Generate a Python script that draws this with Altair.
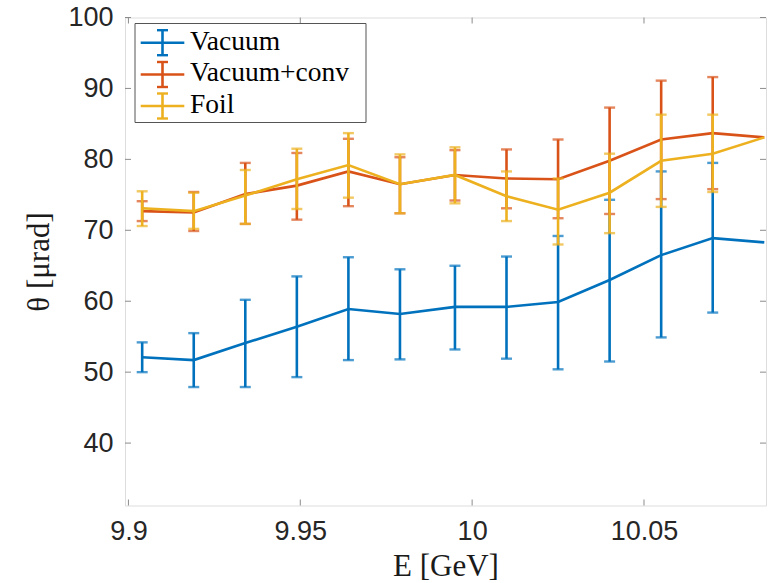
import altair as alt
import pandas as pd

# ---- data ----
energy = [9.904, 9.919, 9.934, 9.949, 9.964, 9.979, 9.995, 10.010, 10.025, 10.040, 10.055, 10.070, 10.085]

vac = [52.1, 51.7, 54.1, 56.4, 58.9, 58.2, 59.2, 59.2, 59.9, 63.0, 66.5, 68.9, 68.3]
vac_hi = [54.2, 55.5, 60.2, 63.5, 66.2, 64.5, 65.0, 66.3, 69.2, 74.3, 78.3, 79.5, None]
vac_lo = [50.0, 47.9, 47.9, 49.3, 51.7, 51.8, 53.2, 51.9, 50.4, 51.5, 54.9, 58.4, None]

conv = [72.7, 72.5, 75.1, 76.3, 78.3, 76.5, 77.8, 77.3, 77.2, 79.8, 82.8, 83.7, 83.1]
conv_hi = [74.1, 75.4, 79.5, 80.9, 82.9, 80.3, 81.3, 81.4, 82.8, 87.3, 91.1, 91.6, None]
conv_lo = [71.3, 69.9, 70.9, 71.5, 73.4, 72.4, 74.2, 73.1, 71.7, 72.3, 74.4, 75.8, None]

foil = [73.1, 72.7, 74.9, 77.2, 79.2, 76.5, 77.8, 74.8, 72.9, 75.3, 79.8, 80.8, 83.1]
foil_hi = [75.5, 75.3, 78.5, 81.5, 83.7, 80.7, 81.7, 78.3, 77.3, 80.8, 86.3, 86.3, None]
foil_lo = [70.6, 70.2, 70.9, 73.0, 74.6, 72.4, 73.8, 71.3, 68.0, 69.6, 73.3, 75.4, None]

names = ["Vacuum", "Vacuum+conv", "Foil"]
colors = ["#0072BD", "#D95319", "#EDB120"]

x_ticks = [9.9, 9.95, 10.0, 10.05]
y_ticks = [40, 50, 60, 70, 80, 90, 100]
x_domain = [9.899, 10.0855]
y_domain = [31.2, 100]

# ---- layout ----
W, H = 641, 488
TICK = 6
FRAME = "#8c8c8c"
SANS = "Liberation Sans"
SERIF = "Liberation Serif"
LW = 2.6

xs = alt.Scale(domain=x_domain, nice=False, zero=False)
ys = alt.Scale(domain=y_domain, nice=False, zero=False)

x_axis = alt.Axis(values=x_ticks, format="~g", title="E [GeV]", grid=False, domain=False,
                  ticks=False, labelFont=SANS, labelFontSize=27, labelColor="#262626",
                  labelPadding=13, titleFont=SERIF, titleFontSize=31, titleFontWeight="normal",
                  titleColor="#1a1a1a", titlePadding=7, labelFlush=False)
y_axis = alt.Axis(values=y_ticks, format="d", title="θ [μrad]", grid=False, domain=False,
                  ticks=False, labelFont=SANS, labelFontSize=27, labelColor="#262626",
                  labelPadding=12, titleFont=SERIF, titleFontSize=31, titleFontWeight="normal",
                  titleColor="#1a1a1a", titlePadding=12, labelFlush=False)

color = alt.Color("series:N", scale=alt.Scale(domain=names, range=colors), legend=None)

series_data = [
    ("Vacuum", vac, vac_lo, vac_hi),
    ("Vacuum+conv", conv, conv_lo, conv_hi),
    ("Foil", foil, foil_lo, foil_hi),
]

layers = []
for name, val, lo, hi in series_data:
    df = pd.DataFrame({"series": name, "E": energy, "val": val, "lo": lo, "hi": hi})
    base = alt.Chart(df)
    line = base.mark_line(strokeWidth=LW).encode(
        x=alt.X("E:Q", scale=xs, axis=x_axis),
        y=alt.Y("val:Q", scale=ys, axis=y_axis),
        color=color,
        order="E:Q",
    )
    eb = base.transform_filter("isValid(datum.hi) && isFinite(datum.hi)")
    bars = eb.mark_rule(strokeWidth=LW).encode(
        x=alt.X("E:Q", scale=xs, axis=x_axis),
        y=alt.Y("lo:Q", scale=ys, axis=y_axis),
        y2="hi:Q",
        color=color,
    )
    cap_hi = eb.mark_tick(orient="horizontal", size=11, thickness=2.4).encode(
        x=alt.X("E:Q", scale=xs, axis=x_axis),
        y=alt.Y("hi:Q", scale=ys, axis=y_axis),
        color=color,
    )
    cap_lo = eb.mark_tick(orient="horizontal", size=11, thickness=2.4).encode(
        x=alt.X("E:Q", scale=xs, axis=x_axis),
        y=alt.Y("lo:Q", scale=ys, axis=y_axis),
        color=color,
    )
    layers += [bars, cap_hi, cap_lo, line]

# inward tick marks on all four sides
xt = alt.Chart(pd.DataFrame({"t": x_ticks}))
yt = alt.Chart(pd.DataFrame({"t": y_ticks}))
tick_layers = [
    xt.mark_rule(color=FRAME, strokeWidth=1).encode(
        x=alt.X("t:Q", scale=xs, axis=x_axis), y=alt.value(H), y2=alt.value(H - TICK)),
    xt.mark_rule(color=FRAME, strokeWidth=1).encode(
        x=alt.X("t:Q", scale=xs, axis=x_axis), y=alt.value(0), y2=alt.value(TICK)),
    yt.mark_rule(color=FRAME, strokeWidth=1).encode(
        y=alt.Y("t:Q", scale=ys, axis=y_axis), x=alt.value(0), x2=alt.value(TICK)),
    yt.mark_rule(color=FRAME, strokeWidth=1).encode(
        y=alt.Y("t:Q", scale=ys, axis=y_axis), x=alt.value(W), x2=alt.value(W - TICK)),
]

# ---- hand-drawn legend (error-bar glyphs) ----
LX0, LX1, LY0, LY1 = 10, 241, 6, 105
row_y = [25.2, 57.0, 88.5]
sym_l, sym_r, sym_c = 15.7, 59.3, 37.5
half_bar, half_cap = 12.5, 5.5

leg = alt.Chart(pd.DataFrame({"k": [0]}))
legend_layers = [
    leg.mark_rect(fill="white", stroke="#555555", strokeWidth=1).encode(
        x=alt.value(LX0), x2=alt.value(LX1), y=alt.value(LY0), y2=alt.value(LY1))
]
for i, name in enumerate(names):
    ry = row_y[i]
    c = colors[i]
    ld = alt.Chart(pd.DataFrame({"label": [name]}))
    legend_layers += [
        ld.mark_rule(color=c, strokeWidth=LW).encode(
            x=alt.value(sym_l), x2=alt.value(sym_r), y=alt.value(ry)),
        ld.mark_rule(color=c, strokeWidth=LW).encode(
            x=alt.value(sym_c), y=alt.value(ry - half_bar), y2=alt.value(ry + half_bar)),
        ld.mark_rule(color=c, strokeWidth=2.4).encode(
            x=alt.value(sym_c - half_cap), x2=alt.value(sym_c + half_cap), y=alt.value(ry - half_bar)),
        ld.mark_rule(color=c, strokeWidth=2.4).encode(
            x=alt.value(sym_c - half_cap), x2=alt.value(sym_c + half_cap), y=alt.value(ry + half_bar)),
        ld.mark_text(align="left", baseline="alphabetic", font=SERIF, fontSize=27.5,
                     color="#000000").encode(
            x=alt.value(65), y=alt.value(ry + 6.8), text="label:N"),
    ]

chart = alt.layer(*tick_layers, *layers, *legend_layers).properties(
    width=W, height=H,
    autosize=alt.AutoSizeParams(type="none"),
    padding={"left": 125, "top": 17.5, "right": 7, "bottom": 77},
).configure_view(stroke=FRAME, strokeWidth=1.2).configure(background="white")

chart.save("out.html", embed_options={"renderer": "svg", "actions": False})
